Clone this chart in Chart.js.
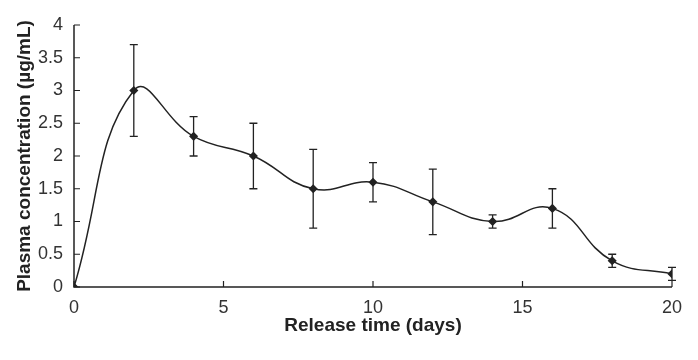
<!DOCTYPE html>
<html><head><meta charset="utf-8">
<script src="https://cdn.jsdelivr.net/npm/chart.js@4/dist/chart.umd.min.js"></script>
<style>html,body{margin:0;padding:0;background:#fff}#wrap{width:698px;height:360px;position:relative}</style>
</head><body><div id="wrap"><canvas id="c" width="698" height="360"></canvas></div>
<script>
const days = [0, 2, 4, 6, 8, 10, 12, 14, 16, 18, 20];
const concentration = [0, 3.0, 2.3, 2.0, 1.5, 1.6, 1.3, 1.0, 1.2, 0.4, 0.2];
const errors = [0, 0.7, 0.3, 0.5, 0.6, 0.3, 0.5, 0.1, 0.3, 0.1, 0.1];
const xTicks = [0, 5, 10, 15, 20];
const yTicks = [0, 0.5, 1, 1.5, 2, 2.5, 3, 3.5, 4];

const INK = '#222';
const FONT = "'Liberation Sans', Arial, sans-serif";

const errorBarPlugin = {
  id: 'errorBars',
  afterDatasetsDraw(chart) {
    const ctx = chart.ctx, xs = chart.scales.x, ys = chart.scales.y;
    ctx.save();
    ctx.strokeStyle = INK; ctx.lineWidth = 1.3;
    days.forEach((d, i) => {
      const e = errors[i];
      if (!e) return;
      const px = xs.getPixelForValue(d);
      const top = ys.getPixelForValue(concentration[i] + e);
      const bot = ys.getPixelForValue(concentration[i] - e);
      ctx.beginPath();
      ctx.moveTo(px, top); ctx.lineTo(px, bot);
      ctx.moveTo(px - 4, top); ctx.lineTo(px + 4, top);
      ctx.moveTo(px - 4, bot); ctx.lineTo(px + 4, bot);
      ctx.stroke();
    });
    ctx.restore();
  }
};

const axesPlugin = {
  id: 'inwardAxes',
  afterDraw(chart) {
    const ctx = chart.ctx, xs = chart.scales.x, ys = chart.scales.y, a = chart.chartArea;
    ctx.save();
    ctx.strokeStyle = INK; ctx.lineWidth = 1.5;
    ctx.beginPath();
    ctx.moveTo(a.left, a.top); ctx.lineTo(a.left, a.bottom); ctx.lineTo(a.right, a.bottom);
    ctx.stroke();
    ctx.lineWidth = 1.2;
    ctx.beginPath();
    xTicks.forEach(v => { const p = xs.getPixelForValue(v); ctx.moveTo(p, a.bottom); ctx.lineTo(p, a.bottom - 6); });
    yTicks.forEach(v => { const p = ys.getPixelForValue(v); ctx.moveTo(a.left, p); ctx.lineTo(a.left + 6, p); });
    ctx.stroke();
    ctx.restore();
  }
};

new Chart(document.getElementById('c'), {
  type: 'line',
  data: {
    datasets: [{
      data: days.map((d, i) => ({ x: d, y: concentration[i] })),
      borderColor: INK,
      borderWidth: 1.5,
      tension: 0.45,
      pointStyle: 'rectRot',
      pointRadius: 3.5,
      pointBackgroundColor: INK,
      pointBorderColor: INK,
      fill: false
    }]
  },
  options: {
    responsive: false,
    animation: false,
    layout: { padding: { top: 25, right: 26, left: 9, bottom: 19 } },
    plugins: { legend: { display: false }, tooltip: { enabled: false } },
    scales: {
      x: {
        type: 'linear', min: 0, max: 20,
        afterBuildTicks: s => { s.ticks = xTicks.map(v => ({ value: v })); },
        afterFit: s => { s.height = 54; },
        border: { display: false },
        grid: { display: false, drawTicks: false },
        ticks: { color: '#333', font: { family: FONT, size: 18 }, padding: 10, callback: v => String(v) },
        title: { display: true, text: 'Release time (days)', color: INK, font: { family: FONT, size: 19, weight: 'bold' } }
      },
      y: {
        min: 0, max: 4,
        afterBuildTicks: s => { s.ticks = yTicks.map(v => ({ value: v })); },
        afterFit: s => { s.width = 65; },
        border: { display: false },
        grid: { display: false, drawTicks: false },
        ticks: { color: '#333', font: { family: FONT, size: 18 }, padding: 11, callback: v => String(v) },
        title: { display: true, text: 'Plasma concentration (µg/mL)', color: INK, font: { family: FONT, size: 19, weight: 'bold' } }
      }
    }
  },
  plugins: [errorBarPlugin, axesPlugin]
});
</script></body></html>
